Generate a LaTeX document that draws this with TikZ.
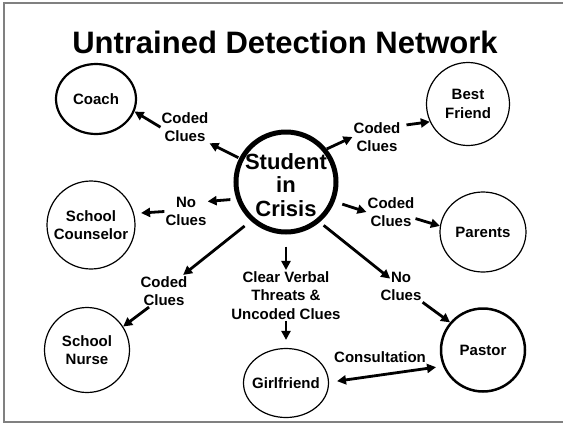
\documentclass[tikz,border=0pt]{standalone}
\usepackage{fontspec}
\setmainfont{Liberation Sans}
\usetikzlibrary{shapes.geometric,arrows.meta,calc}

\begin{document}
\begin{tikzpicture}[x=1pt, y=-1pt,
  bubble/.style={shape=ellipse, draw, line width=1.2pt, inner sep=-15pt, align=center,
    font=\bfseries\fontsize{15}{18.7}\selectfont},
  clue/.style={inner sep=1pt, align=center, font=\bfseries\fontsize{15}{18.7}\selectfont},
  arr/.style={-{Triangle[length=9pt,width=9pt]}, line width=2.8pt},
  dbl/.style={{Triangle[length=9pt,width=9pt]}-{Triangle[length=9pt,width=9pt]}, line width=2.8pt}]

\useasboundingbox (0,0) rectangle (563,424);
\draw[gray, line width=1.2pt] (563,3) -- (4,3) -- (4,422) -- (563,422);

\path
(285,42) node[font=\bfseries\fontsize{31}{36}\selectfont](title){Untrained Detection Network}
(286,182) node[bubble, minimum size=100pt, line width=5pt, font=\bfseries\fontsize{22}{23.5}\selectfont](student){\rule{0pt}{21.5pt}Student\\in\\Crisis}
(96,99) node[bubble, minimum width=80pt, minimum height=70pt, line width=2.2pt](coach){Coach}
(468,104) node[bubble, minimum size=83pt](friend){Best\\Friend}
(91,225) node[bubble, minimum size=88pt](counselor){School\\Counselor}
(483,232) node[bubble, minimum width=86pt, minimum height=80pt](parents){Parents}
(87,350) node[bubble, minimum size=85pt](nurse){School\\Nurse}
(286,383) node[bubble, minimum width=85pt, minimum height=69pt](girlfriend){Girlfriend}
(483,350) node[bubble, minimum width=84pt, minimum height=83pt, line width=2.5pt](pastor){Pastor};

%% labels on the way out of the student
\path
(185,127.2) node[clue](coachclues){Coded\\Clues}
(377,137) node[clue](friendclues){Coded\\Clues}
(186,211.5) node[clue](counselorclues){No\\Clues}
(391,212) node[clue](parentclues){Coded\\Clues}
(164,291) node[clue](nurseclues){Coded\\Clues}
(286,295.4) node[clue](threats){Clear Verbal\\Threats \&\\Uncoded Clues}
(401,286.5) node[clue](pastorclues){No\\Clues}
(380,357) node[clue](consult){Consultation};

%% student -> coach
\draw[arr, shorten <=1pt] (student.153) -- (coachclues.south east);
\draw[arr] (coachclues.west) -- (coach.-18);

%% student -> best friend
\draw[arr] (student.39) -- (friendclues.west);
\draw[arr, shorten <=5pt] (friendclues.25) -- (friend.205);

%% student -> counselor
\draw[arr, shorten <=6pt] (student.-161) -- (counselorclues.25);
\draw[arr, shorten >=7pt] (counselorclues.west) -- (counselor.15);

%% student -> parents
\draw[arr, shorten <=8pt] (student.-22) -- (parentclues.west);
\draw[arr] (parentclues.-15) -- (parents.172);

%% student -> nurse
\draw[arr, shorten <=8pt] (student.-132) -- (nurseclues.40);
\draw[arr] (nurseclues.-133) -- (nurse.33);

%% student -> girlfriend
\draw[arr, shorten <=12pt] (student.south) -- (threats.north);
\draw[arr, shorten >=8pt] (threats.south) -- (girlfriend.north);

%% student -> pastor
\draw[arr, shorten <=5pt] (student.-50) -- ($(pastorclues.west)!.5!(pastorclues.north)$);
\draw[arr] (pastorclues.south east) -- (pastor.140);

%% girlfriend <-> pastor
\draw[dbl, shorten <=8pt, shorten >=7pt] (girlfriend.1) -- (pastor.202);

\end{tikzpicture}
\end{document}
